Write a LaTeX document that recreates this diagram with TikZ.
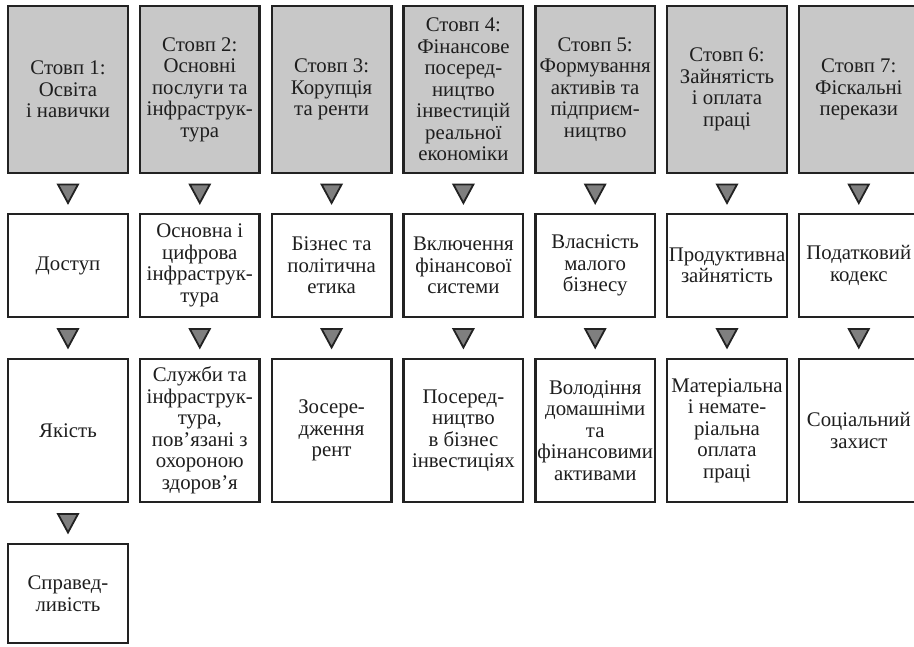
\documentclass[tikz,border=0pt]{standalone}
\usepackage{fontspec}
\setmainfont{Liberation Serif}
\usetikzlibrary{calc}
\definecolor{boxgray}{HTML}{C8C8C8}
\definecolor{trigray}{HTML}{7F7F7F}
\definecolor{edgec}{HTML}{222222}
\definecolor{ink}{HTML}{1E1E1E}
\newcommand\tridown[2]{%
  \coordinate (m#1#2) at ($(#1.south)!0.5!(#2.north)$);
  \draw[tri] ($(m#1#2)+(-10pt,9pt)$) -- ($(m#1#2)+(10pt,9pt)$) -- ($(m#1#2)+(0pt,-9.5pt)$) -- cycle;}
\begin{document}
\begin{tikzpicture}[x=1pt,y=-1pt,
  box/.style={draw=edgec,line width=2.4pt,minimum width=119.6pt,inner sep=0pt,align=center,
    font=\fontsize{20.8}{21.5}\selectfont,text=ink},
  pillar/.style={box,fill=boxgray,minimum height=166.6pt},
  rowtwo/.style={box,fill=white,minimum height=102.6pt},
  rowthree/.style={box,fill=white,minimum height=142.6pt},
  rowfour/.style={box,fill=white,minimum height=98.6pt},
  tri/.style={draw=edgec,fill=trigray,line width=1.8pt,line join=miter}]
\fill[white] (0,0) rectangle (914,647);
\useasboundingbox (0,0) rectangle (914,647);
% row 1
\node[pillar] (p1) at (68,89.5) {Стовп 1:\\Освіта\\і навички};
\node[pillar] (p2) at (199.8,89.5) {Стовп 2:\\Основні\\послуги та\\інфраструк-\\тура};
\node[pillar] (p3) at (331.6,89.5) {Стовп 3:\\Корупція\\та ренти};
\node[pillar] (p4) at (463.4,89.5) {Стовп 4:\\Фінансове\\посеред-\\ництво\\інвестицій\\реальної\\економіки};
\node[pillar] (p5) at (595.2,89.5) {Стовп 5:\\Формування\\активів та\\підприєм-\\ництво};
\node[pillar] (p6) at (727,89.5) {Стовп 6:\\Зайнятість\\і оплата\\праці};
\node[pillar] (p7) at (858.8,89.5) {Стовп 7:\\Фіскальні\\перекази};
% row 2
\node[rowtwo] (a1) at (68,265.5) {Доступ};
\node[rowtwo] (a2) at (199.8,265.5) {Основна і\\цифрова\\інфраструк-\\тура};
\node[rowtwo] (a3) at (331.6,265.5) {Бізнес та\\політична\\етика};
\node[rowtwo] (a4) at (463.4,265.5) {Включення\\фінансової\\системи};
\node[rowtwo] (a5) at (595.2,265.5) {Власність\\малого\\бізнесу};
\node[rowtwo] (a6) at (727,265.5) {Продуктивна\\зайнятість};
\node[rowtwo] (a7) at (858.8,265.5) {Податковий\\кодекс};
% row 3
\node[rowthree] (b1) at (68,430.5) {Якість};
\node[rowthree] (b2) at (199.8,430.5) {Служби та\\інфраструк-\\тура,\\пов’язані з\\охороною\\здоров’я};
\node[rowthree] (b3) at (331.6,430.5) {Зосере-\\дження\\рент};
\node[rowthree] (b4) at (463.4,430.5) {Посеред-\\ництво\\в бізнес\\інвестиціях};
\node[rowthree] (b5) at (595.2,430.5) {Володіння\\домашніми\\та\\фінансовими\\активами};
\node[rowthree] (b6) at (727,430.5) {Матеріальна\\і немате-\\ріальна\\оплата\\праці};
\node[rowthree] (b7) at (858.8,430.5) {Соціальний\\захист};
% row 4
\node[rowfour] (c1) at (68,593.5) {Справед-\\ливість};
% markers
\foreach \i in {1,...,7}{\tridown{p\i}{a\i}\tridown{a\i}{b\i}}
\tridown{b1}{c1}
\end{tikzpicture}
\end{document}
